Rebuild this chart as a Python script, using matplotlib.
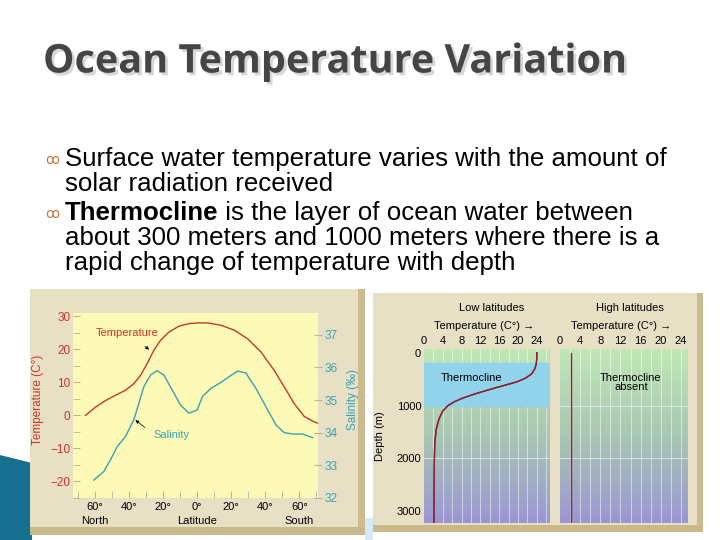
import numpy as np
import matplotlib.pyplot as plt
import matplotlib.patheffects as pe
from matplotlib.patches import Rectangle, Polygon
from matplotlib.colors import LinearSegmentedColormap

plt.rcParams['font.family'] = ['Liberation Sans', 'DejaVu Sans']

# surface values against latitude (north negative, south positive)
temp_lat = [-65.7, -59.8, -53.9, -48, -42.2, -37.3, -33.3, -29.4, -25.5, -21.6, -16.7, -10.8, -4.9, 0,
            6.1, 13.9, 21.8, 29.6, 37.5, 45.3, 51.2, 57.1, 62.9, 68.8, 71.8]
temp_val = [0, 2.5, 4.5, 6.1, 7.6, 9.6, 12.1, 15.7, 19.7, 22.7, 25.2, 27.0, 27.8, 28.0,
            28.0, 27.3, 25.8, 23.2, 19.2, 13.6, 8.6, 3.5, -0.3, -2.0, -2.5]

sal_lat = [-60.8, -54.9, -51, -47.1, -42.2, -37.3, -34.3, -31.4, -27.4, -23.5, -19.6, -14.7, -9.8, -4.9, 0,
           3.1, 8, 13.9, 18.8, 23.7, 28.6, 34.5, 40.4, 46.3, 51.2, 57.1, 62, 67.8]
sal_val = [32.55, 32.81, 33.17, 33.57, 33.88, 34.39, 34.9, 35.41, 35.77, 35.9, 35.77, 35.31, 34.85, 34.6, 34.7,
           35.11, 35.36, 35.54, 35.72, 35.89, 35.83, 35.36, 34.8, 34.24, 34.0, 33.96, 33.96, 33.85]

lat_ticks = [-60, -40, -20, 0, 20, 40, 60]
lat_labels = ['60°', '40°', '20°', '0°', '20°', '40°', '60°']
temp_ticks = [-20, -10, 0, 10, 20, 30]
sal_ticks = [32, 33, 34, 35, 36, 37]

# depth profiles
low_depth = [0, 100, 200, 300, 400, 480, 550, 620, 700, 780, 860, 930, 1000, 1100, 1250, 1450, 1700, 2200, 3250]
low_temp = [24.0, 24.0, 23.9, 23.6, 22.9, 21.6, 19.8, 17.0, 13.8, 10.8, 8.2, 6.4, 5.1, 4.0, 3.2, 2.6, 2.3, 2.15, 2.1]
high_depth = [0, 3250]
high_temp = [2.2, 2.2]
prof_ticks = [0, 4, 8, 12, 16, 20, 24]
depth_ticks = [0, 1000, 2000, 3000]

W, H = 720, 540


def box(x0, y0, x1, y1):
    # pixel box (top-left origin) -> figure rect
    return [x0 / W, 1 - y1 / H, (x1 - x0) / W, (y1 - y0) / H]


def rect(fig, x0, y0, x1, y1, color, z=0):
    l, b, w, h = box(x0, y0, x1, y1)
    fig.add_artist(Rectangle((l, b), w, h, transform=fig.transFigure,
                             facecolor=color, edgecolor='none', zorder=z))


fig = plt.figure(figsize=(7.2, 5.4), dpi=100)
fig.patch.set_facecolor('white')

# decorative corner
fig.add_artist(Polygon([(0, 1 - 455 / H), (32 / W, 1 - 463 / H), (32 / W, 0), (0, 0)],
                       closed=True, transform=fig.transFigure,
                       facecolor='#17708f', edgecolor='none', zorder=0))
rect(fig, 365, 518, 373, 540, '#d4ebf6')

# frames
rect(fig, 30, 289, 365, 535, '#e8e0c5')
rect(fig, 358, 289, 365, 535, '#cbbb8e')
rect(fig, 30, 527, 365, 535, '#c9b98a')
rect(fig, 373, 293, 703, 532, '#e8e0c5')
rect(fig, 697, 293, 703, 532, '#cbbb8e')
rect(fig, 373, 525, 703, 532, '#c9b98a')

# title and bullets
fig.text(43 / W, 1 - 62 / H, 'Ocean Temperature Variation', fontsize=28.5,
         family='Open Sans', weight='bold', color='#454545', va='center',
         path_effects=[pe.withSimplePatchShadow(offset=(2, -2), shadow_rgbFace='#b0b0b0', alpha=0.5)])

bul = dict(fontsize=18.6, va='center', color='black')
fig.text(45 / W, 1 - 160 / H, 'ꝏ', fontsize=10, va='center', color='#c8783c',
         family=['DejaVu Sans'])
fig.text(45 / W, 1 - 214 / H, 'ꝏ', fontsize=10, va='center', color='#c8783c',
         family=['DejaVu Sans'])
fig.text(65 / W, 1 - 159 / H, 'Surface water temperature varies with the amount of', **bul)
fig.text(65 / W, 1 - 184 / H, 'solar radiation received', **bul)
t = fig.text(65 / W, 1 - 213 / H, 'Thermocline', weight='bold', **bul)
fig.canvas.draw()
bb = t.get_window_extent()
fig.text(bb.x1 / W, 1 - 213 / H, ' is the layer of ocean water between', **bul)
fig.text(65 / W, 1 - 238 / H, 'about 300 meters and 1000 meters where there is a', **bul)
fig.text(65 / W, 1 - 263 / H, 'rapid change of temperature with depth', **bul)

# ---- left chart
red = '#d3322a'
teal = '#36a3b5'
ax1 = fig.add_axes(box(73, 313, 318, 498))
ax1.set_facecolor('#fdf9b6')
ax1.plot(temp_lat, temp_val, color='#c8372b', lw=1.0)
ax1.set_xlim(-73, 71)
ax1.set_ylim(-25, 31)
ax1.set_xticks(lat_ticks)
ax1.set_xticklabels(lat_labels)
ax1.set_xticks(range(-70, 71, 10), minor=True)
ax1.set_yticks(temp_ticks)
ax1.set_yticklabels(['\u221220', '\u221210', '0', '10', '20', '30'])
ax1.set_yticks(range(-25, 31, 5), minor=True)
ax1.tick_params(axis='x', which='both', direction='in', length=5, color='#bdb59a', labelsize=8, pad=3)
ax1.tick_params(axis='y', which='both', direction='in', length=5, color='#bdb59a', labelsize=8.5,
                labelcolor=red, pad=2)
for s in ax1.spines.values():
    s.set_visible(False)
ax1.set_ylabel('Temperature (C°)', color=red, fontsize=8.5)
ax1.yaxis.set_label_coords(-0.12, 0.53)

ax2 = ax1.twinx()
ax2.plot(sal_lat, sal_val, color='#3b9fb4', lw=1.0)
ax2.set_ylim(32, 37.67)
ax2.set_yticks(sal_ticks)
ax2.tick_params(axis='y', direction='inout', length=6, color='#bdb59a', labelsize=8.5,
                labelcolor=teal, pad=2)
for s in ax2.spines.values():
    s.set_visible(False)
ax2.set_ylabel('Salinity (‰)', color=teal, fontsize=8.5)
ax2.yaxis.set_label_coords(1.12, 0.53)

xt = ax1.get_xaxis_transform()
ax1.text(-60, -0.125, 'North', transform=xt, ha='center', va='center', fontsize=8)
ax1.text(0, -0.125, 'Latitude', transform=xt, ha='center', va='center', fontsize=8)
ax1.text(60, -0.125, 'South', transform=xt, ha='center', va='center', fontsize=8)

ax1.text(-41, 24.8, 'Temperature', color=red, fontsize=8, ha='center', va='center')
ax1.annotate('', xy=(-27, 19.4), xytext=(-32, 21.4),
             arrowprops=dict(arrowstyle='-|>', color='black', lw=0.5, mutation_scale=5))
ax1.text(-15.3, -6, 'Salinity', color=teal, fontsize=8, ha='center', va='center')
ax1.annotate('', xy=(-37.6, -0.9), xytext=(-29.4, -4.2),
             arrowprops=dict(arrowstyle='-|>', color='black', lw=0.5, mutation_scale=5))

# ---- right charts
grad = LinearSegmentedColormap.from_list('sea', ['#c0e8b6', '#a9c7b3', '#9b96d3'])
shade = np.linspace(0, 1, 256).reshape(-1, 1)

axL = fig.add_axes(box(424, 349, 550, 523))
axH = fig.add_axes(box(560, 349, 688, 523))
for ax, xmax, prof_t, prof_d in [(axL, 26.8, low_temp, low_depth), (axH, 25.4, high_temp, high_depth)]:
    ax.imshow(shade, cmap=grad, aspect='auto', extent=[0, xmax, 3220, -70], zorder=0)
    ax.set_xlim(0, xmax)
    ax.set_ylim(3220, -70)
    for g in np.arange(2, xmax, 2):
        ax.axvline(g, color='white', lw=0.6, alpha=0.6, zorder=1)
    for g in [1000, 2000]:
        ax.axhline(g, color='white', lw=0.6, alpha=0.7, zorder=1)
    ax.plot(prof_t, prof_d, color='#8b2233', lw=1.0, zorder=3)
    ax.xaxis.tick_top()
    ax.set_xticks(prof_ticks)
    ax.tick_params(axis='both', length=0, labelsize=8, pad=2)
    for s in ax.spines.values():
        s.set_visible(False)
    ax.text(0.48, 1.135, 'Temperature (C°) →', transform=ax.transAxes, ha='center', va='center', fontsize=8)

axL.axhspan(200, 1000, color='#90d3ea', zorder=2)
axL.plot(low_temp, low_depth, color='#8b2233', lw=1.0, zorder=3)
axL.set_yticks(depth_ticks)
axL.set_ylabel('Depth (m)', fontsize=8)
axL.yaxis.set_label_coords(-0.31, 0.5)
axH.set_yticks([])
axL.text(0.54, 1.235, 'Low latitudes', transform=axL.transAxes, ha='center', va='center', fontsize=8)
axH.text(0.547, 1.235, 'High latitudes', transform=axH.transAxes, ha='center', va='center', fontsize=8)
axL.text(10.2, 470, 'Thermocline', ha='center', va='center', fontsize=8, zorder=4)
axH.text(14.1, 560, 'Thermocline\nabsent', ha='center', va='center', fontsize=8, linespacing=0.95, zorder=4)

fig.savefig('out.png', dpi=100)
